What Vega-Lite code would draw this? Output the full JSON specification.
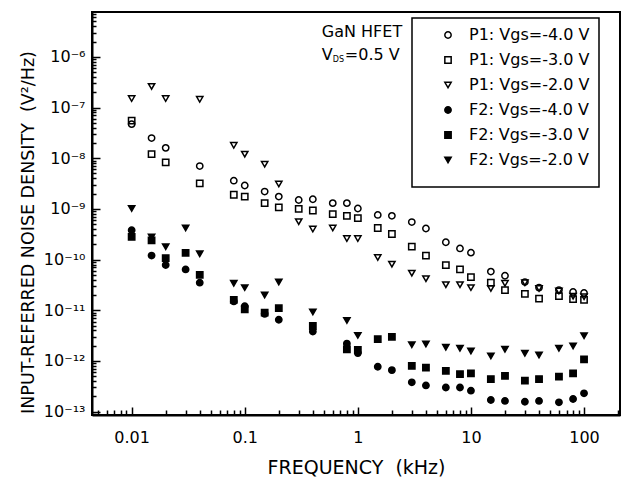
{
  "$schema": "https://vega.github.io/schema/vega-lite/v6.json",
  "width": 528,
  "height": 403,
  "autosize": {"type": "none"},
  "padding": {"left": 92, "top": 12, "right": 4, "bottom": 66},
  "background": "white",
  "config": {
    "view": {"stroke": "black", "strokeWidth": 2},
    "font": "DejaVu Sans",
    "legend": {
      "orient": "none",
      "legendX": 320,
      "legendY": 6,
      "strokeColor": "black",
      "strokeWidth": 1.5,
      "fillColor": "white",
      "padding": 9,
      "labelFont": "DejaVu Sans",
      "labelFontSize": 16,
      "labelColor": "black",
      "rowPadding": 9,
      "symbolOffset": 19,
      "labelOffset": 13,
      "labelLimit": 300,
      "symbolStrokeWidth": 1.5,
      "titleOrient": "bottom",
      "titleFontSize": 9,
      "titlePadding": 1
    }
  },
  "data": {
    "values": [
      {"f": 0.01, "v": 4.7e-8, "s": "P1: Vgs=-4.0 V"},
      {"f": 0.015, "v": 2.5e-8, "s": "P1: Vgs=-4.0 V"},
      {"f": 0.02, "v": 1.6e-8, "s": "P1: Vgs=-4.0 V"},
      {"f": 0.04, "v": 7e-9, "s": "P1: Vgs=-4.0 V"},
      {"f": 0.08, "v": 3.6e-9, "s": "P1: Vgs=-4.0 V"},
      {"f": 0.1, "v": 2.9e-9, "s": "P1: Vgs=-4.0 V"},
      {"f": 0.15, "v": 2.2e-9, "s": "P1: Vgs=-4.0 V"},
      {"f": 0.2, "v": 1.75e-9, "s": "P1: Vgs=-4.0 V"},
      {"f": 0.3, "v": 1.5e-9, "s": "P1: Vgs=-4.0 V"},
      {"f": 0.4, "v": 1.55e-9, "s": "P1: Vgs=-4.0 V"},
      {"f": 0.6, "v": 1.3e-9, "s": "P1: Vgs=-4.0 V"},
      {"f": 0.8, "v": 1.3e-9, "s": "P1: Vgs=-4.0 V"},
      {"f": 1, "v": 1.02e-9, "s": "P1: Vgs=-4.0 V"},
      {"f": 1.5, "v": 7.6e-10, "s": "P1: Vgs=-4.0 V"},
      {"f": 2, "v": 7.3e-10, "s": "P1: Vgs=-4.0 V"},
      {"f": 3, "v": 5.5e-10, "s": "P1: Vgs=-4.0 V"},
      {"f": 4, "v": 4.1e-10, "s": "P1: Vgs=-4.0 V"},
      {"f": 6, "v": 2.2e-10, "s": "P1: Vgs=-4.0 V"},
      {"f": 8, "v": 1.66e-10, "s": "P1: Vgs=-4.0 V"},
      {"f": 10, "v": 1.37e-10, "s": "P1: Vgs=-4.0 V"},
      {"f": 15, "v": 5.8e-11, "s": "P1: Vgs=-4.0 V"},
      {"f": 20, "v": 4.8e-11, "s": "P1: Vgs=-4.0 V"},
      {"f": 30, "v": 3.6e-11, "s": "P1: Vgs=-4.0 V"},
      {"f": 40, "v": 2.8e-11, "s": "P1: Vgs=-4.0 V"},
      {"f": 60, "v": 2.5e-11, "s": "P1: Vgs=-4.0 V"},
      {"f": 80, "v": 2.3e-11, "s": "P1: Vgs=-4.0 V"},
      {"f": 100, "v": 2.2e-11, "s": "P1: Vgs=-4.0 V"},

      {"f": 0.01, "v": 5.5e-8, "s": "P1: Vgs=-3.0 V"},
      {"f": 0.015, "v": 1.2e-8, "s": "P1: Vgs=-3.0 V"},
      {"f": 0.02, "v": 8.3e-9, "s": "P1: Vgs=-3.0 V"},
      {"f": 0.04, "v": 3.2e-9, "s": "P1: Vgs=-3.0 V"},
      {"f": 0.08, "v": 1.9e-9, "s": "P1: Vgs=-3.0 V"},
      {"f": 0.1, "v": 1.75e-9, "s": "P1: Vgs=-3.0 V"},
      {"f": 0.15, "v": 1.3e-9, "s": "P1: Vgs=-3.0 V"},
      {"f": 0.2, "v": 1.07e-9, "s": "P1: Vgs=-3.0 V"},
      {"f": 0.3, "v": 1.0e-9, "s": "P1: Vgs=-3.0 V"},
      {"f": 0.4, "v": 9.3e-10, "s": "P1: Vgs=-3.0 V"},
      {"f": 0.6, "v": 7.9e-10, "s": "P1: Vgs=-3.0 V"},
      {"f": 0.8, "v": 7.3e-10, "s": "P1: Vgs=-3.0 V"},
      {"f": 1, "v": 6.6e-10, "s": "P1: Vgs=-3.0 V"},
      {"f": 1.5, "v": 4.2e-10, "s": "P1: Vgs=-3.0 V"},
      {"f": 2, "v": 3.2e-10, "s": "P1: Vgs=-3.0 V"},
      {"f": 3, "v": 1.8e-10, "s": "P1: Vgs=-3.0 V"},
      {"f": 4, "v": 1.2e-10, "s": "P1: Vgs=-3.0 V"},
      {"f": 6, "v": 7.8e-11, "s": "P1: Vgs=-3.0 V"},
      {"f": 8, "v": 6.4e-11, "s": "P1: Vgs=-3.0 V"},
      {"f": 10, "v": 4.5e-11, "s": "P1: Vgs=-3.0 V"},
      {"f": 15, "v": 3.5e-11, "s": "P1: Vgs=-3.0 V"},
      {"f": 20, "v": 2.5e-11, "s": "P1: Vgs=-3.0 V"},
      {"f": 30, "v": 2.1e-11, "s": "P1: Vgs=-3.0 V"},
      {"f": 40, "v": 1.7e-11, "s": "P1: Vgs=-3.0 V"},
      {"f": 60, "v": 1.9e-11, "s": "P1: Vgs=-3.0 V"},
      {"f": 80, "v": 1.66e-11, "s": "P1: Vgs=-3.0 V"},
      {"f": 100, "v": 1.6e-11, "s": "P1: Vgs=-3.0 V"},

      {"f": 0.01, "v": 1.5e-7, "s": "P1: Vgs=-2.0 V"},
      {"f": 0.015, "v": 2.6e-7, "s": "P1: Vgs=-2.0 V"},
      {"f": 0.02, "v": 1.5e-7, "s": "P1: Vgs=-2.0 V"},
      {"f": 0.04, "v": 1.45e-7, "s": "P1: Vgs=-2.0 V"},
      {"f": 0.08, "v": 1.8e-8, "s": "P1: Vgs=-2.0 V"},
      {"f": 0.1, "v": 1.2e-8, "s": "P1: Vgs=-2.0 V"},
      {"f": 0.15, "v": 7.6e-9, "s": "P1: Vgs=-2.0 V"},
      {"f": 0.2, "v": 3.1e-9, "s": "P1: Vgs=-2.0 V"},
      {"f": 0.3, "v": 5.6e-10, "s": "P1: Vgs=-2.0 V"},
      {"f": 0.4, "v": 4.0e-10, "s": "P1: Vgs=-2.0 V"},
      {"f": 0.6, "v": 4.2e-10, "s": "P1: Vgs=-2.0 V"},
      {"f": 0.8, "v": 2.6e-10, "s": "P1: Vgs=-2.0 V"},
      {"f": 1, "v": 2.6e-10, "s": "P1: Vgs=-2.0 V"},
      {"f": 1.5, "v": 1.1e-10, "s": "P1: Vgs=-2.0 V"},
      {"f": 2, "v": 8.1e-11, "s": "P1: Vgs=-2.0 V"},
      {"f": 3, "v": 5.4e-11, "s": "P1: Vgs=-2.0 V"},
      {"f": 4, "v": 4.2e-11, "s": "P1: Vgs=-2.0 V"},
      {"f": 6, "v": 3.2e-11, "s": "P1: Vgs=-2.0 V"},
      {"f": 8, "v": 3.2e-11, "s": "P1: Vgs=-2.0 V"},
      {"f": 10, "v": 2.8e-11, "s": "P1: Vgs=-2.0 V"},
      {"f": 15, "v": 2.7e-11, "s": "P1: Vgs=-2.0 V"},
      {"f": 20, "v": 3.4e-11, "s": "P1: Vgs=-2.0 V"},
      {"f": 30, "v": 3.5e-11, "s": "P1: Vgs=-2.0 V"},
      {"f": 40, "v": 2.7e-11, "s": "P1: Vgs=-2.0 V"},
      {"f": 60, "v": 2.4e-11, "s": "P1: Vgs=-2.0 V"},
      {"f": 80, "v": 1.9e-11, "s": "P1: Vgs=-2.0 V"},
      {"f": 100, "v": 1.85e-11, "s": "P1: Vgs=-2.0 V"},

      {"f": 0.01, "v": 3.8e-10, "s": "F2: Vgs=-4.0 V"},
      {"f": 0.015, "v": 1.2e-10, "s": "F2: Vgs=-4.0 V"},
      {"f": 0.02, "v": 7.8e-11, "s": "F2: Vgs=-4.0 V"},
      {"f": 0.03, "v": 6.4e-11, "s": "F2: Vgs=-4.0 V"},
      {"f": 0.04, "v": 3.5e-11, "s": "F2: Vgs=-4.0 V"},
      {"f": 0.08, "v": 1.5e-11, "s": "F2: Vgs=-4.0 V"},
      {"f": 0.1, "v": 1.2e-11, "s": "F2: Vgs=-4.0 V"},
      {"f": 0.15, "v": 8.5e-12, "s": "F2: Vgs=-4.0 V"},
      {"f": 0.2, "v": 6.5e-12, "s": "F2: Vgs=-4.0 V"},
      {"f": 0.4, "v": 3.8e-12, "s": "F2: Vgs=-4.0 V"},
      {"f": 0.8, "v": 2.2e-12, "s": "F2: Vgs=-4.0 V"},
      {"f": 1, "v": 1.43e-12, "s": "F2: Vgs=-4.0 V"},
      {"f": 1.5, "v": 7.7e-13, "s": "F2: Vgs=-4.0 V"},
      {"f": 2, "v": 6.6e-13, "s": "F2: Vgs=-4.0 V"},
      {"f": 3, "v": 3.8e-13, "s": "F2: Vgs=-4.0 V"},
      {"f": 4, "v": 3.3e-13, "s": "F2: Vgs=-4.0 V"},
      {"f": 6, "v": 3.0e-13, "s": "F2: Vgs=-4.0 V"},
      {"f": 8, "v": 3.0e-13, "s": "F2: Vgs=-4.0 V"},
      {"f": 10, "v": 2.6e-13, "s": "F2: Vgs=-4.0 V"},
      {"f": 15, "v": 1.7e-13, "s": "F2: Vgs=-4.0 V"},
      {"f": 20, "v": 1.63e-13, "s": "F2: Vgs=-4.0 V"},
      {"f": 30, "v": 1.57e-13, "s": "F2: Vgs=-4.0 V"},
      {"f": 40, "v": 1.63e-13, "s": "F2: Vgs=-4.0 V"},
      {"f": 60, "v": 1.53e-13, "s": "F2: Vgs=-4.0 V"},
      {"f": 80, "v": 1.78e-13, "s": "F2: Vgs=-4.0 V"},
      {"f": 100, "v": 2.3e-13, "s": "F2: Vgs=-4.0 V"},

      {"f": 0.01, "v": 2.8e-10, "s": "F2: Vgs=-3.0 V"},
      {"f": 0.015, "v": 2.4e-10, "s": "F2: Vgs=-3.0 V"},
      {"f": 0.02, "v": 1.07e-10, "s": "F2: Vgs=-3.0 V"},
      {"f": 0.03, "v": 1.36e-10, "s": "F2: Vgs=-3.0 V"},
      {"f": 0.04, "v": 5e-11, "s": "F2: Vgs=-3.0 V"},
      {"f": 0.08, "v": 1.6e-11, "s": "F2: Vgs=-3.0 V"},
      {"f": 0.1, "v": 1.05e-11, "s": "F2: Vgs=-3.0 V"},
      {"f": 0.15, "v": 9e-12, "s": "F2: Vgs=-3.0 V"},
      {"f": 0.2, "v": 1.1e-11, "s": "F2: Vgs=-3.0 V"},
      {"f": 0.4, "v": 4.9e-12, "s": "F2: Vgs=-3.0 V"},
      {"f": 0.8, "v": 1.7e-12, "s": "F2: Vgs=-3.0 V"},
      {"f": 1, "v": 1.65e-12, "s": "F2: Vgs=-3.0 V"},
      {"f": 1.5, "v": 2.7e-12, "s": "F2: Vgs=-3.0 V"},
      {"f": 2, "v": 3.0e-12, "s": "F2: Vgs=-3.0 V"},
      {"f": 3, "v": 8e-13, "s": "F2: Vgs=-3.0 V"},
      {"f": 4, "v": 7.4e-13, "s": "F2: Vgs=-3.0 V"},
      {"f": 6, "v": 6.4e-13, "s": "F2: Vgs=-3.0 V"},
      {"f": 8, "v": 5.5e-13, "s": "F2: Vgs=-3.0 V"},
      {"f": 10, "v": 5.7e-13, "s": "F2: Vgs=-3.0 V"},
      {"f": 15, "v": 4.4e-13, "s": "F2: Vgs=-3.0 V"},
      {"f": 20, "v": 5.1e-13, "s": "F2: Vgs=-3.0 V"},
      {"f": 30, "v": 4.1e-13, "s": "F2: Vgs=-3.0 V"},
      {"f": 40, "v": 4.4e-13, "s": "F2: Vgs=-3.0 V"},
      {"f": 60, "v": 4.9e-13, "s": "F2: Vgs=-3.0 V"},
      {"f": 80, "v": 5.7e-13, "s": "F2: Vgs=-3.0 V"},
      {"f": 100, "v": 1.08e-12, "s": "F2: Vgs=-3.0 V"},

      {"f": 0.01, "v": 1.02e-9, "s": "F2: Vgs=-2.0 V"},
      {"f": 0.015, "v": 2.8e-10, "s": "F2: Vgs=-2.0 V"},
      {"f": 0.02, "v": 1.8e-10, "s": "F2: Vgs=-2.0 V"},
      {"f": 0.03, "v": 4.2e-10, "s": "F2: Vgs=-2.0 V"},
      {"f": 0.04, "v": 1.3e-10, "s": "F2: Vgs=-2.0 V"},
      {"f": 0.08, "v": 3.4e-11, "s": "F2: Vgs=-2.0 V"},
      {"f": 0.1, "v": 2.8e-11, "s": "F2: Vgs=-2.0 V"},
      {"f": 0.15, "v": 2.0e-11, "s": "F2: Vgs=-2.0 V"},
      {"f": 0.2, "v": 3.6e-11, "s": "F2: Vgs=-2.0 V"},
      {"f": 0.4, "v": 9.3e-12, "s": "F2: Vgs=-2.0 V"},
      {"f": 0.8, "v": 6.3e-12, "s": "F2: Vgs=-2.0 V"},
      {"f": 1, "v": 3.2e-12, "s": "F2: Vgs=-2.0 V"},
      {"f": 3, "v": 2.1e-12, "s": "F2: Vgs=-2.0 V"},
      {"f": 4, "v": 2.16e-12, "s": "F2: Vgs=-2.0 V"},
      {"f": 6, "v": 1.86e-12, "s": "F2: Vgs=-2.0 V"},
      {"f": 8, "v": 1.78e-12, "s": "F2: Vgs=-2.0 V"},
      {"f": 10, "v": 1.57e-12, "s": "F2: Vgs=-2.0 V"},
      {"f": 15, "v": 1.26e-12, "s": "F2: Vgs=-2.0 V"},
      {"f": 20, "v": 1.7e-12, "s": "F2: Vgs=-2.0 V"},
      {"f": 30, "v": 1.42e-12, "s": "F2: Vgs=-2.0 V"},
      {"f": 40, "v": 1.31e-12, "s": "F2: Vgs=-2.0 V"},
      {"f": 60, "v": 1.78e-12, "s": "F2: Vgs=-2.0 V"},
      {"f": 80, "v": 1.98e-12, "s": "F2: Vgs=-2.0 V"},
      {"f": 100, "v": 3.15e-12, "s": "F2: Vgs=-2.0 V"}
    ]
  },
  "layer": [
    {
      "mark": {"type": "point", "opacity": 0},
      "encoding": {
        "x": {
          "field": "f", "type": "quantitative",
          "scale": {"type": "log", "domain": [0.00446, 208], "nice": false},
          "axis": {
            "orient": "bottom",
            "values": [0.005, 0.006, 0.007, 0.008, 0.009, 0.02, 0.03, 0.04, 0.05, 0.06, 0.07, 0.08, 0.09, 0.2, 0.3, 0.4, 0.5, 0.6, 0.7, 0.8, 0.9, 2, 3, 4, 5, 6, 7, 8, 9, 20, 30, 40, 50, 60, 70, 80, 90, 200],
            "labels": false, "domain": false, "grid": false, "title": null,
            "tickSize": -5, "tickWidth": 1.5, "tickColor": "black"
          }
        },
        "y": {
          "field": "v", "type": "quantitative",
          "scale": {"type": "log", "domain": [8.6e-14, 7.66e-6], "nice": false},
          "axis": {
            "orient": "left",
            "values": [9e-14, 2e-13, 3e-13, 4e-13, 5e-13, 6e-13, 7e-13, 8e-13, 9e-13, 2e-12, 3e-12, 4e-12, 5e-12, 6e-12, 7e-12, 8e-12, 9e-12, 2e-11, 3e-11, 4e-11, 5e-11, 6e-11, 7e-11, 8e-11, 9e-11, 2e-10, 3e-10, 4e-10, 5e-10, 6e-10, 7e-10, 8e-10, 9e-10, 2e-9, 3e-9, 4e-9, 5e-9, 6e-9, 7e-9, 8e-9, 9e-9, 2e-8, 3e-8, 4e-8, 5e-8, 6e-8, 7e-8, 8e-8, 9e-8, 2e-7, 3e-7, 4e-7, 5e-7, 6e-7, 7e-7, 8e-7, 9e-7, 2e-6, 3e-6, 4e-6, 5e-6, 6e-6, 7e-6],
            "labels": false, "domain": false, "grid": false, "title": null,
            "tickSize": -4, "tickWidth": 1.5, "tickColor": "black"
          }
        }
      }
    },
    {
      "mark": {"type": "point", "filled": true, "stroke": "black", "strokeWidth": 1.5, "opacity": 1},
      "encoding": {
        "x": {
          "field": "f", "type": "quantitative",
          "scale": {"type": "log", "domain": [0.00446, 208], "nice": false},
          "axis": {
            "orient": "bottom",
            "values": [0.01, 0.1, 1, 10, 100],
            "labelExpr": "['0.01','0.1','1','10','100'][round(log(datum.value)/LN10)+2]",
            "grid": false,
            "tickSize": -8, "tickWidth": 1.5, "tickColor": "black",
            "domainColor": "black", "domainWidth": 2,
            "labelFont": "DejaVu Sans", "labelFontSize": 16, "labelColor": "black", "labelPadding": 22,
            "labelFlush": false,
            "title": "FREQUENCY\u00a0 (kHz)",
            "titleFont": "DejaVu Sans", "titleFontSize": 19, "titleFontWeight": "normal", "titleColor": "black",
            "titleBaseline": "middle", "titleY": 52, "titleX": 264, "titleAlign": "center"
          }
        },
        "y": {
          "field": "v", "type": "quantitative",
          "scale": {"type": "log", "domain": [8.6e-14, 7.66e-6], "nice": false},
          "axis": {
            "orient": "left",
            "values": [1e-13, 1e-12, 1e-11, 1e-10, 1e-9, 1e-8, 1e-7, 1e-6],
            "labelExpr": "['10⁻¹³','10⁻¹²','10⁻¹¹','10⁻¹⁰','10⁻⁹','10⁻⁸','10⁻⁷','10⁻⁶'][round(log(datum.value)/LN10)+13]",
            "grid": false,
            "tickSize": -8, "tickWidth": 1.5, "tickColor": "black",
            "domainColor": "black", "domainWidth": 2,
            "labelFont": "DejaVu Sans", "labelFontSize": 16, "labelColor": "black", "labelPadding": 15,
            "labelFlush": false,
            "title": "INPUT-REFERRED NOISE DENSITY\u00a0 (V²/Hz)",
            "titleFont": "DejaVu Sans", "titleFontSize": 17.5, "titleFontWeight": "normal", "titleColor": "black",
            "titleBaseline": "middle", "titleAlign": "center", "titleAngle": -90,
            "titleX": -64, "titleY": 220
          }
        },
        "shape": {
          "field": "s", "type": "nominal",
          "scale": {
            "domain": ["P1: Vgs=-4.0 V", "P1: Vgs=-3.0 V", "P1: Vgs=-2.0 V", "F2: Vgs=-4.0 V", "F2: Vgs=-3.0 V", "F2: Vgs=-2.0 V"],
            "range": ["circle", "square", "triangle-down", "circle", "square", "triangle-down"]
          },
          "legend": {"title": " "}
        },
        "fill": {
          "field": "s", "type": "nominal",
          "scale": {
            "domain": ["P1: Vgs=-4.0 V", "P1: Vgs=-3.0 V", "P1: Vgs=-2.0 V", "F2: Vgs=-4.0 V", "F2: Vgs=-3.0 V", "F2: Vgs=-2.0 V"],
            "range": ["transparent", "transparent", "transparent", "black", "black", "black"]
          },
          "legend": {"title": " "}
        },
        "size": {
          "field": "s", "type": "nominal",
          "scale": {
            "domain": ["P1: Vgs=-4.0 V", "P1: Vgs=-3.0 V", "P1: Vgs=-2.0 V", "F2: Vgs=-4.0 V", "F2: Vgs=-3.0 V", "F2: Vgs=-2.0 V"],
            "range": [40, 40, 70, 48, 48, 100]
          },
          "legend": {"title": " "}
        }
      }
    },
    {
      "data": {"values": [{}]},
      "mark": {"type": "text", "text": "GaN HFET", "align": "left", "baseline": "middle", "font": "DejaVu Sans", "fontSize": 16, "color": "black"},
      "encoding": {
        "x": {"datum": 0.48, "type": "quantitative", "axis": null},
        "y": {"datum": 3.08e-6, "type": "quantitative", "axis": null}
      }
    },
    {
      "data": {"values": [{}]},
      "mark": {"type": "text", "text": "V", "align": "left", "baseline": "middle", "font": "DejaVu Sans", "fontSize": 16, "color": "black"},
      "encoding": {
        "x": {"datum": 0.48, "type": "quantitative", "axis": null},
        "y": {"datum": 1.09e-6, "type": "quantitative", "axis": null}
      }
    },
    {
      "data": {"values": [{}]},
      "mark": {"type": "text", "text": "DS", "align": "left", "baseline": "middle", "font": "DejaVu Sans", "fontSize": 8, "color": "black", "dx": 11, "dy": 5},
      "encoding": {
        "x": {"datum": 0.48, "type": "quantitative", "axis": null},
        "y": {"datum": 1.09e-6, "type": "quantitative", "axis": null}
      }
    },
    {
      "data": {"values": [{}]},
      "mark": {"type": "text", "text": "=0.5 V", "align": "left", "baseline": "middle", "font": "DejaVu Sans", "fontSize": 16, "color": "black", "dx": 23},
      "encoding": {
        "x": {"datum": 0.48, "type": "quantitative", "axis": null},
        "y": {"datum": 1.09e-6, "type": "quantitative", "axis": null}
      }
    }
  ],
  "resolve": {"axis": {"x": "independent", "y": "independent"}}
}
